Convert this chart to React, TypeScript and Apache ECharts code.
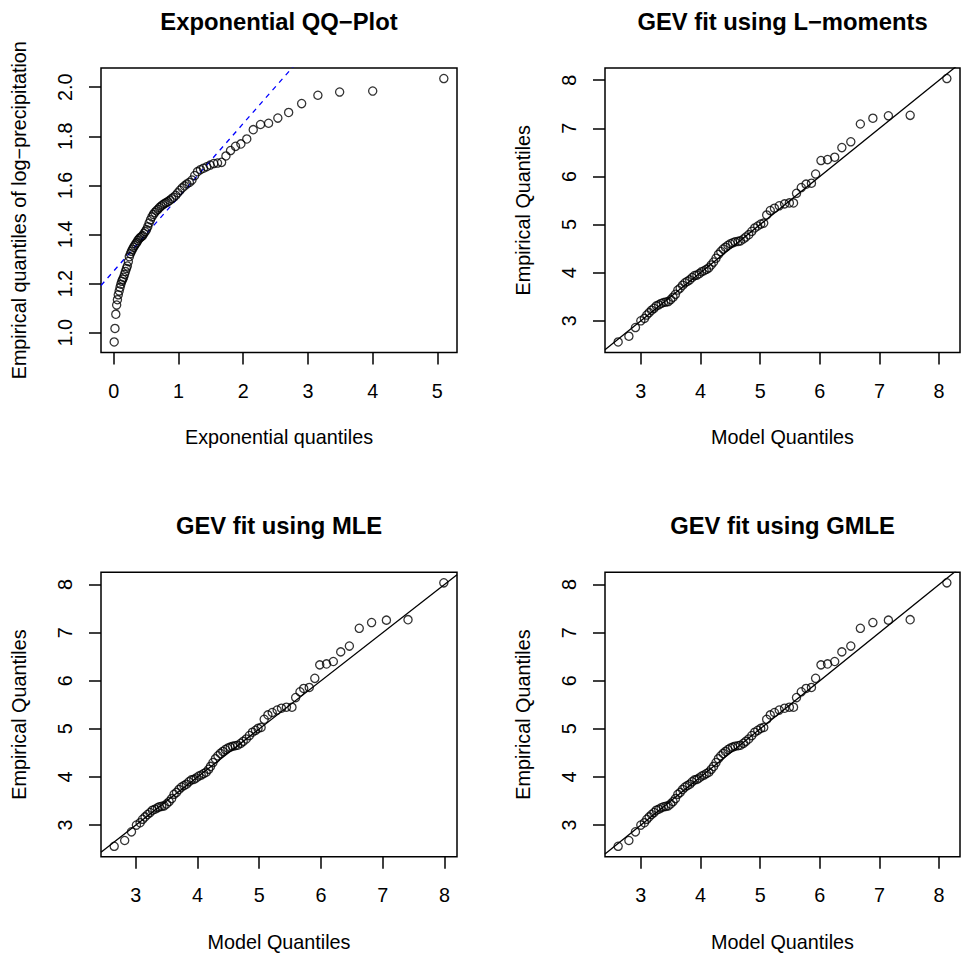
import React, { useEffect, useRef } from "react";
import * as echarts from "echarts";

// Exponential QQ-plot: exponential plotting positions vs. sorted log-precipitation
const expQuantiles = [
  0.006, 0.018, 0.031, 0.044, 0.056, 0.069, 0.083, 0.096, 0.109, 0.123,
  0.137, 0.151, 0.165, 0.18, 0.195, 0.209, 0.225, 0.24, 0.256, 0.272,
  0.288, 0.304, 0.321, 0.338, 0.355, 0.372, 0.39, 0.408, 0.427, 0.446,
  0.465, 0.485, 0.505, 0.525, 0.546, 0.567, 0.589, 0.611, 0.634, 0.657,
  0.681, 0.705, 0.73, 0.756, 0.782, 0.809, 0.837, 0.866, 0.895, 0.925,
  0.957, 0.989, 1.022, 1.057, 1.093, 1.13, 1.168, 1.208, 1.25, 1.293,
  1.339, 1.386, 1.436, 1.489, 1.545, 1.603, 1.666, 1.733, 1.804, 1.881,
  1.964, 2.055, 2.155, 2.267, 2.392, 2.535, 2.702, 2.903, 3.154, 3.49,
  4.001, 5.1,
];
const logPrecip = [
  0.963, 1.018, 1.076, 1.113, 1.135, 1.155, 1.17, 1.185, 1.198, 1.21,
  1.218, 1.226, 1.238, 1.25, 1.262, 1.272, 1.29, 1.31, 1.322, 1.332,
  1.34, 1.348, 1.355, 1.362, 1.368, 1.376, 1.383, 1.388, 1.392, 1.396,
  1.404, 1.412, 1.42, 1.432, 1.447, 1.46, 1.472, 1.482, 1.49, 1.497,
  1.503, 1.51, 1.516, 1.521, 1.526, 1.53, 1.534, 1.54, 1.546, 1.552,
  1.56, 1.57, 1.58, 1.59, 1.598, 1.606, 1.612, 1.622, 1.64, 1.656,
  1.664, 1.67, 1.676, 1.683, 1.689, 1.691, 1.694, 1.72, 1.742, 1.759,
  1.769, 1.789, 1.827, 1.848, 1.853, 1.874, 1.897, 1.933, 1.967, 1.98,
  1.984, 2.035,
];
// reference line of the exponential QQ-plot
const expLineIntercept = 1.252;
const expLineSlope = 0.3;

// sorted sample shared by the three GEV QQ-plots
const empiricalQuantiles = [
  2.56, 2.68, 2.86, 3.0, 3.05, 3.12, 3.17, 3.22, 3.26, 3.31,
  3.33, 3.36, 3.38, 3.39, 3.4, 3.44, 3.49, 3.55, 3.64, 3.68,
  3.74, 3.79, 3.82, 3.85, 3.9, 3.94, 3.95, 3.98, 4.02, 4.04,
  4.07, 4.1, 4.16, 4.22, 4.3, 4.38, 4.44, 4.49, 4.53, 4.57,
  4.6, 4.62, 4.64, 4.65, 4.66, 4.7, 4.74, 4.79, 4.86, 4.93,
  4.97, 5.01, 5.03, 5.2, 5.29, 5.34, 5.39, 5.43, 5.45, 5.45,
  5.65, 5.77, 5.84, 5.86, 6.05, 6.33, 6.35, 6.4, 6.6, 6.72,
  7.09, 7.21, 7.26, 7.27, 8.035,
];
const lmomQuantiles = [
  2.62, 2.8, 2.91, 3.0, 3.06, 3.1, 3.14, 3.18, 3.22, 3.26,
  3.3, 3.34, 3.38, 3.42, 3.46, 3.5, 3.54, 3.58, 3.62, 3.66,
  3.7, 3.74, 3.78, 3.82, 3.86, 3.9, 3.94, 3.98, 4.02, 4.06,
  4.1, 4.14, 4.18, 4.22, 4.26, 4.3, 4.34, 4.38, 4.42, 4.46,
  4.5, 4.54, 4.58, 4.63, 4.67, 4.72, 4.76, 4.81, 4.86, 4.91,
  4.96, 5.01, 5.06, 5.11, 5.17, 5.24, 5.32, 5.41, 5.49, 5.56,
  5.61, 5.69, 5.77, 5.86, 5.93, 6.02, 6.13, 6.25, 6.37, 6.52,
  6.68, 6.89, 7.15, 7.515, 8.13,
];
const mleQuantiles = [
  2.65, 2.82, 2.93, 3.01, 3.07, 3.11, 3.15, 3.19, 3.23, 3.27,
  3.31, 3.35, 3.38, 3.42, 3.46, 3.5, 3.54, 3.58, 3.62, 3.66,
  3.7, 3.74, 3.78, 3.82, 3.86, 3.9, 3.94, 3.98, 4.02, 4.06,
  4.1, 4.14, 4.18, 4.21, 4.25, 4.29, 4.33, 4.37, 4.41, 4.45,
  4.49, 4.53, 4.57, 4.61, 4.65, 4.7, 4.74, 4.79, 4.84, 4.89,
  4.94, 4.98, 5.03, 5.08, 5.14, 5.21, 5.29, 5.36, 5.44, 5.53,
  5.59, 5.66, 5.72, 5.81, 5.9, 5.98, 6.09, 6.2, 6.32, 6.46,
  6.62, 6.82, 7.06, 7.41, 7.99,
];
const gmleQuantiles = [
  2.62, 2.8, 2.91, 3.0, 3.06, 3.1, 3.14, 3.18, 3.22, 3.26,
  3.3, 3.34, 3.38, 3.42, 3.46, 3.5, 3.54, 3.58, 3.62, 3.66,
  3.7, 3.74, 3.78, 3.82, 3.86, 3.9, 3.94, 3.98, 4.02, 4.06,
  4.1, 4.14, 4.18, 4.22, 4.26, 4.3, 4.34, 4.38, 4.42, 4.46,
  4.5, 4.54, 4.58, 4.63, 4.67, 4.72, 4.76, 4.81, 4.86, 4.91,
  4.96, 5.01, 5.06, 5.11, 5.17, 5.24, 5.32, 5.41, 5.49, 5.56,
  5.61, 5.69, 5.77, 5.86, 5.93, 6.02, 6.13, 6.25, 6.37, 6.52,
  6.68, 6.89, 7.15, 7.515, 8.13,
];

const expXTicks = [0, 1, 2, 3, 4, 5];
const expYTicks = [1.0, 1.2, 1.4, 1.6, 1.8, 2.0];
const gevTicks = [3, 4, 5, 6, 7, 8];

const FONT = '"Liberation Sans", Arial, Helvetica, sans-serif';
const LABEL_SIZE = 19.8;
const TITLE_SIZE = 23.8;

type Panel = {
  left: number;
  top: number;
  width: number;
  height: number;
  title: string;
  xName: string;
  yName: string;
  x: number[];
  y: number[];
  xTicks: number[];
  yTicks: number[];
  xDigits: number;
  yDigits: number;
  line: { intercept: number; slope: number; color: string; dashed: boolean };
};

const panels: Panel[] = [
  {
    left: 101, top: 68, width: 356, height: 284.5,
    title: "Exponential QQ\u2212Plot",
    xName: "Exponential quantiles",
    yName: "Empirical quantiles of log\u2212precipitation",
    x: expQuantiles, y: logPrecip,
    xTicks: expXTicks, yTicks: expYTicks, xDigits: 0, yDigits: 1,
    line: { intercept: expLineIntercept, slope: expLineSlope, color: "#0000FF", dashed: true },
  },
  {
    left: 605, top: 68, width: 355, height: 284.5,
    title: "GEV fit using L\u2212moments",
    xName: "Model Quantiles", yName: "Empirical Quantiles",
    x: lmomQuantiles, y: empiricalQuantiles,
    xTicks: gevTicks, yTicks: gevTicks, xDigits: 0, yDigits: 0,
    line: { intercept: 0, slope: 1, color: "#000000", dashed: false },
  },
  {
    left: 101, top: 572.3, width: 356, height: 284.5,
    title: "GEV fit using MLE",
    xName: "Model Quantiles", yName: "Empirical Quantiles",
    x: mleQuantiles, y: empiricalQuantiles,
    xTicks: gevTicks, yTicks: gevTicks, xDigits: 0, yDigits: 0,
    line: { intercept: 0, slope: 1, color: "#000000", dashed: false },
  },
  {
    left: 605, top: 572.3, width: 355, height: 284.5,
    title: "GEV fit using GMLE",
    xName: "Model Quantiles", yName: "Empirical Quantiles",
    x: gmleQuantiles, y: empiricalQuantiles,
    xTicks: gevTicks, yTicks: gevTicks, xDigits: 0, yDigits: 0,
    line: { intercept: 0, slope: 1, color: "#000000", dashed: false },
  },
];

// axis limits padded by 4% of the data range on each side
function padRange(values: number[]): [number, number] {
  const lo = Math.min(...values);
  const hi = Math.max(...values);
  const pad = (hi - lo) * 0.04;
  return [lo - pad, hi + pad];
}

function buildOption() {
  const grid: any[] = [];
  const xAxis: any[] = [];
  const yAxis: any[] = [];
  const series: any[] = [];
  const graphic: any[] = [];

  panels.forEach((p, i) => {
    const [xMin, xMax] = padRange(p.x);
    const [yMin, yMax] = padRange(p.y);

    grid.push({
      left: p.left, top: p.top, width: p.width, height: p.height,
      show: true, borderColor: "#000", borderWidth: 1.5,
      backgroundColor: "transparent",
      containLabel: false, outerBoundsMode: "none",
    });

    const tickStyle = { color: "#000", width: 1.5 };
    const labelStyle = { color: "#000", fontSize: LABEL_SIZE, fontFamily: FONT };

    xAxis.push({
      type: "value", gridIndex: i, min: xMin, max: xMax,
      axisLine: { show: false, onZero: false },
      splitLine: { show: false },
      axisTick: { show: true, length: 12, lineStyle: tickStyle, customValues: p.xTicks },
      axisLabel: {
        ...labelStyle, margin: 28, customValues: p.xTicks,
        formatter: (v: number) => v.toFixed(p.xDigits),
      },
    });
    yAxis.push({
      type: "value", gridIndex: i, min: yMin, max: yMax,
      axisLine: { show: false, onZero: false },
      splitLine: { show: false },
      axisTick: { show: true, length: 12, lineStyle: tickStyle, customValues: p.yTicks },
      axisLabel: {
        ...labelStyle, margin: 26, rotate: 90, customValues: p.yTicks,
        formatter: (v: number) => v.toFixed(p.yDigits),
      },
    });

    series.push({
      type: "line", xAxisIndex: i, yAxisIndex: i,
      data: [
        [xMin, p.line.intercept + p.line.slope * xMin],
        [xMax, p.line.intercept + p.line.slope * xMax],
      ],
      showSymbol: false, silent: true, clip: true, z: 1,
      lineStyle: { color: p.line.color, width: 1.3, type: p.line.dashed ? [5, 5] : "solid" },
    });
    series.push({
      type: "scatter", xAxisIndex: i, yAxisIndex: i,
      data: p.x.map((v, k) => [v, p.y[k]]),
      symbol: "circle", symbolSize: 8.2, silent: true, z: 2,
      itemStyle: { color: "rgba(0,0,0,0)", borderColor: "#000", borderWidth: 1.3 },
    });

    const cx = p.left + p.width / 2;
    graphic.push({
      type: "text", x: cx, y: p.top - 47,
      style: {
        text: p.title, fill: "#000", font: `bold ${TITLE_SIZE}px ${FONT}`,
        align: "center", verticalAlign: "middle",
      },
    });
    graphic.push({
      type: "text", x: cx, y: p.top + p.height + 84.8,
      style: {
        text: p.xName, fill: "#000", font: `${LABEL_SIZE}px ${FONT}`,
        align: "center", verticalAlign: "middle",
      },
    });
    graphic.push({
      type: "text", x: p.left - 82, y: p.top + p.height / 2, rotation: Math.PI / 2,
      style: {
        text: p.yName, fill: "#000", font: `${LABEL_SIZE}px ${FONT}`,
        align: "center", verticalAlign: "middle",
      },
    });
  });

  return {
    animation: false,
    backgroundColor: "#ffffff",
    textStyle: { fontFamily: FONT },
    grid, xAxis, yAxis, series, graphic,
  };
}

export default function App() {
  const ref = useRef<HTMLDivElement>(null);

  useEffect(() => {
    document.body.style.margin = "0";
    if (!ref.current) return;
    const chart = echarts.init(ref.current, null, { renderer: "svg" });
    chart.setOption(buildOption() as any);
    return () => chart.dispose();
  }, []);

  return (
    <div
      ref={ref}
      style={{ position: "absolute", left: 0, top: 0, width: 961, height: 954, background: "#fff" }}
    />
  );
}
